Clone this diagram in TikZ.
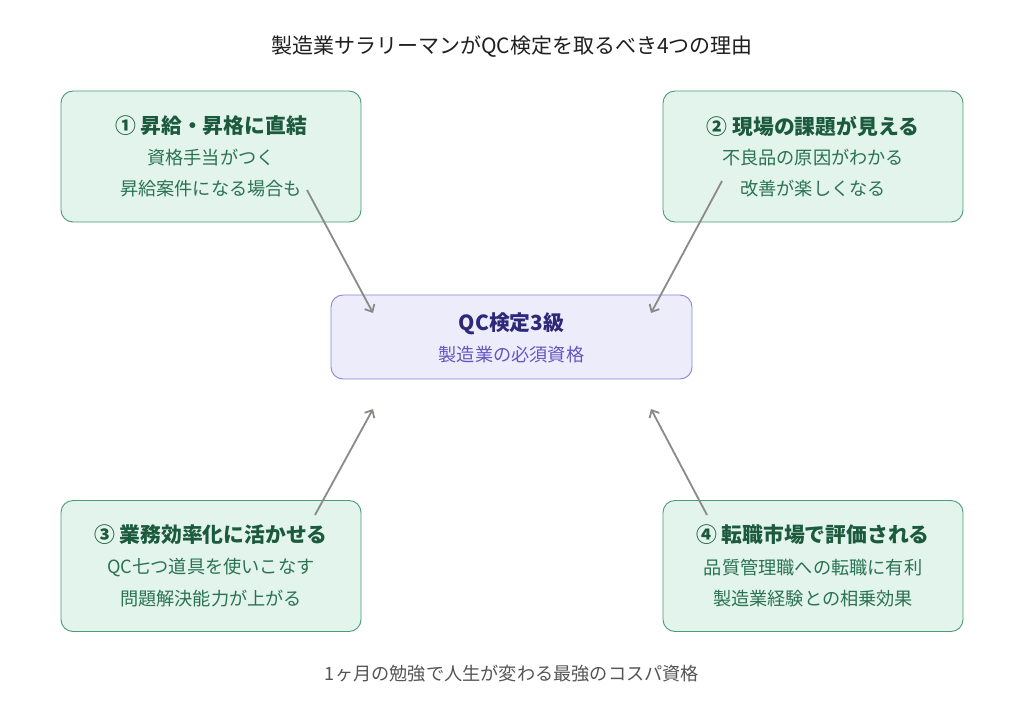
\documentclass[tikz,border=0pt]{standalone}
\usepackage{fontspec}
\setmainfont{Noto Sans CJK JP}
\usetikzlibrary{arrows.meta}
\definecolor{gfill}{HTML}{E3F4EC}
\definecolor{gborder}{HTML}{4A9A78}
\definecolor{gtitle}{HTML}{1B5A3C}
\definecolor{gtext}{HTML}{2A7352}
\definecolor{pfill}{HTML}{EDECFB}
\definecolor{pborder}{HTML}{8C82D8}
\definecolor{ptitle}{HTML}{2E2878}
\definecolor{ptext}{HTML}{6656C4}
\definecolor{arrowc}{HTML}{8A8A86}
\definecolor{footc}{HTML}{555555}
\tikzset{
  gbox/.style={draw=gborder, fill=gfill, line width=0.9pt, rounded corners=12pt, minimum width=300pt, minimum height=131pt, inner sep=0pt},
  pbox/.style={draw=pborder, fill=pfill, line width=0.9pt, rounded corners=12pt, minimum width=361pt, minimum height=84pt, inner sep=0pt},
  btitle/.style={font=\fontsize{20.8pt}{24pt}\selectfont\bfseries, text=gtitle, inner sep=0pt},
  bline/.style={font=\fontsize{18.2pt}{21pt}\selectfont, text=gtext, inner sep=0pt},
  ctitle/.style={font=\fontsize{20.8pt}{24pt}\selectfont\bfseries, text=ptitle, inner sep=0pt},
  cline/.style={font=\fontsize{18.2pt}{21pt}\selectfont, text=ptext, inner sep=0pt},
  conn/.style={draw=arrowc, line width=1.8pt, -{Straight Barb[length=6pt,width=11pt,line width=1.8pt]}},
}
\begin{document}
\begin{tikzpicture}[x=1pt,y=-1pt]
\useasboundingbox[fill=white] (0,0) rectangle (1024,723);
\node[font=\fontsize{21pt}{24pt}\selectfont, text=black!88, inner sep=0pt] (title) at (512,47) {製造業サラリーマンがQC検定を取るべき4つの理由};

\node[gbox] (b1) at (211,156.5) {};
\node[gbox] (b2) at (813,156.5) {};
\node[gbox] (b3) at (211,566) {};
\node[gbox] (b4) at (813,566) {};
\node[pbox] (c) at (511.5,337) {};

\node[btitle] (b1t) at (211,126) {① 昇給・昇格に直結};
\node[bline] (b1a) at (211,158) {資格手当がつく};
\node[bline] (b1b) at (211,189) {昇給案件になる場合も};

\node[btitle] (b2t) at (813,126) {② 現場の課題が見える};
\node[bline] (b2a) at (813,158) {不良品の原因がわかる};
\node[bline] (b2b) at (813,189) {改善が楽しくなる};

\node[btitle] (b3t) at (211,535) {③ 業務効率化に活かせる};
\node[bline] (b3a) at (211,568) {QC七つ道具を使いこなす};
\node[bline] (b3b) at (211,599) {問題解決能力が上がる};

\node[btitle] (b4t) at (813,535) {④ 転職市場で評価される};
\node[bline] (b4a) at (813,568) {品質管理職への転職に有利};
\node[bline] (b4b) at (813,599) {製造業経験との相乗効果};

\node[ctitle] (ct) at (511.5,324) {QC検定3級};
\node[cline] (cs) at (511.5,355) {製造業の必須資格};

\node[font=\fontsize{18.2pt}{21pt}\selectfont, text=footc, inner sep=0pt] (foot) at (512,674) {1ヶ月の勉強で人生が変わる最強のコスパ資格};

\coordinate (s1) at (307,190);
\coordinate (e1) at (373,313);
\coordinate (s2) at (722,181);
\coordinate (e2) at (651,313);
\coordinate (s3) at (315,515);
\coordinate (e3) at (373,409);
\coordinate (s4) at (707,515);
\coordinate (e4) at (651,409);
\draw[conn] (s1) -- (e1);
\draw[conn] (s2) -- (e2);
\draw[conn] (s3) -- (e3);
\draw[conn] (s4) -- (e4);
\end{tikzpicture}
\end{document}
